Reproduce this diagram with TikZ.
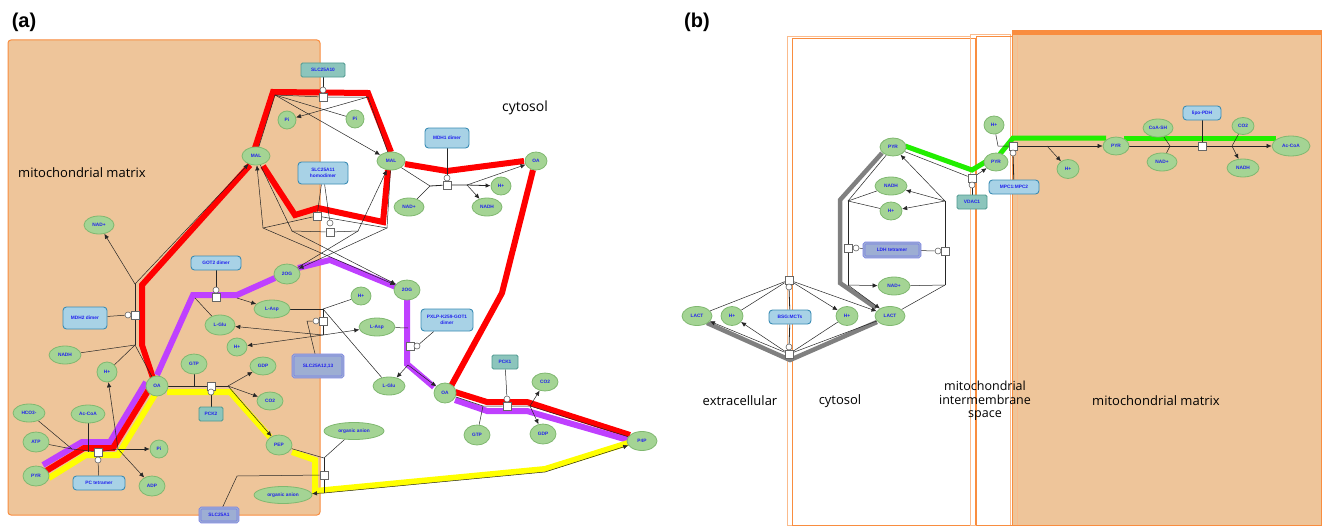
\documentclass[tikz,border=0pt]{standalone}
\usepackage{fontspec}
\setmainfont{Open Sans}
\newfontfamily\lab{Liberation Sans}
\usetikzlibrary{shapes.geometric,shapes.misc,arrows.meta}
\pgfdeclarelayer{bgl}\pgfdeclarelayer{thk}\pgfdeclarelayer{thn}
\pgfsetlayers{bgl,thk,thn,main}
\definecolor{mito}{HTML}{EEC59A}
\definecolor{memb}{HTML}{F98D3F}
\definecolor{metf}{HTML}{A4D494}
\definecolor{metd}{HTML}{80B870}
\definecolor{enzf}{HTML}{A8D2E6}
\definecolor{enzd}{HTML}{3A8CB4}
\definecolor{tealf}{HTML}{8CC5BC}
\definecolor{teald}{HTML}{4F9990}
\definecolor{cplxf}{HTML}{9DAED3}
\definecolor{cplxd}{HTML}{7A80E6}
\definecolor{txt}{HTML}{2222EE}
\definecolor{pur}{HTML}{BF40FF}
\definecolor{grn}{HTML}{22EE00}
\definecolor{yel}{HTML}{FFFF00}
\tikzset{
 every node/.style={font=\lab\bfseries\fontsize{4.8}{5.6}\selectfont, text=txt},
 met/.style={ellipse, fill=metf, draw=metd, line width=0.8, minimum width=26, minimum height=18, inner sep=0},
 enz/.style={rectangle, rounded corners=3.5, fill=enzf, draw=enzd, line width=0.9, minimum width=44, minimum height=14, inner sep=1, align=center},
 tealbox/.style={rectangle, rounded corners=1.5, fill=tealf, draw=teald, line width=0.8, minimum width=26, minimum height=14, inner sep=1},
 cplx/.style={rectangle, rounded corners=1.5, fill=cplxf, draw=cplxd, double=cplxf, double distance=1.4, line width=0.7, minimum width=38, minimum height=14, inner sep=1},
 sq/.style={rectangle, draw=black!60, fill=white, minimum size=8, inner sep=0, line width=0.6},
 cir/.style={circle, draw=black!60, fill=white, minimum size=6, inner sep=0, line width=0.6},
 ln/.style={draw=black!85, line width=0.5},
 ar/.style={ln, -{Latex[length=5pt,width=4.5pt]}},
 redp/.style={draw=red, line width=6, line join=miter},
 purp/.style={draw=pur, line width=6, line join=miter},
 yelp/.style={draw=yel, line width=6, line join=miter},
 grayp/.style={draw=black!50, line width=4.5, line join=miter},
 grnp/.style={draw=grn, line width=5, line join=miter},
 lbl/.style={text=black, font=\fontsize{13}{14.5}\selectfont, align=center},
 plbl/.style={text=black, font=\lab\bfseries\fontsize{20}{22}\selectfont}
}
\begin{document}
\begin{tikzpicture}[x=1pt,y=-1pt]
\useasboundingbox (0,0) rectangle (1324,527);
\begin{pgfonlayer}{bgl}
\fill[white] (0,0) rectangle (1324,527);
\draw[memb, fill=mito, rounded corners=3, line width=1] (8,40) rectangle (320,515);
\draw[memb!60, line width=0.9] (787,36) rectangle (970,525);
\draw[memb, line width=0.9] (792,38) rectangle (975,525);
\draw[memb!60, line width=0.9] (970,34) rectangle (1010,525);
\draw[memb, line width=0.9] (976,36) rectangle (1015,525);
\fill[mito] (1012,31) rectangle (1321,525);
\draw[memb, line width=1] (1012,31) rectangle (1321,525);
\draw[memb, line width=3.5] (1012,33) -- (1321,33);
\draw[memb!60, line width=0.8] (1017,36) -- (1017,525);
\end{pgfonlayer}

% labels
\node[plbl] (la) at (24,22) {(a)};
\node[plbl] (lb) at (697,22) {(b)};
\node[lbl] (lmm) at (82,173) {mitochondrial matrix};
\node[lbl, font=\fontsize{14}{15}\selectfont] (lcy) at (525,108) {cytosol};
\node[lbl] (lex) at (740,401) {extracellular};
\node[lbl] (lcb) at (840,401) {cytosol};
\node[lbl, font=\fontsize{12.5}{13.5}\selectfont] (lims) at (985,401) {mitochondrial\\intermembrane\\space};
\node[lbl] (lmb) at (1156,401) {mitochondrial matrix};

% ===== panel a nodes =====
\node[tealbox, minimum width=44] (slc10) at (323,70) {SLC25A10};
\node[sq] (s10) at (323,97) {};
\node[cir] (c10) at (323,90) {};
\node[met, minimum width=18] (aPiL) at (287,120) {Pi};
\node[met, minimum width=18] (aPiR) at (355,119) {Pi};
\node[met, minimum width=28] (aMALm) at (256,156) {MAL};
\node[met, minimum width=28] (aMALc) at (391,161) {MAL};
\node[enz, minimum width=50, minimum height=22] (slc11) at (323,173) {SLC25A11\\homodimer};
\node[sq] (s11a) at (317,216) {};
\node[sq] (s11b) at (330,232) {};
\node[cir] (c11b) at (330,223) {};
\node[enz, minimum height=20] (mdh1) at (447,138) {MDH1 dimer};
\node[sq] (smdh1) at (447,185) {};
\node[cir] (cmdh1) at (447,178) {};
\node[met, minimum width=30] (aNADc) at (409,207) {NAD+};
\node[met, minimum width=20] (aHc) at (501,186) {H+};
\node[met, minimum width=30] (aNADHc) at (487,207) {NADH};
\node[met, minimum width=22] (aOAc) at (536,161) {OA};
\node[met, minimum width=30] (aNADm) at (99,225) {NAD+};
\node[enz, minimum width=50] (got2) at (216,263) {GOT2 dimer};
\node[sq] (sgot2) at (216,297) {};
\node[cir] (cgot2) at (216,290) {};
\node[met, minimum width=26, minimum height=20] (a2OGm) at (287,274) {2OG};
\node[met, minimum width=26, minimum height=20] (a2OGc) at (407,290) {2OG};
\node[met, minimum width=36] (aAspm) at (272,309) {L-Asp};
\node[met, minimum width=30, minimum height=20] (aGlum) at (220,325) {L-Glu};
\node[met, minimum width=20] (aHm) at (237,347) {H+};
\node[enz, minimum width=44, minimum height=22] (mdh2) at (85,318) {MDH2 dimer};
\node[sq] (smdh2) at (135,315) {};
\node[cir] (cmdh2) at (128,315) {};
\node[met, minimum width=32] (aNADHm) at (65,355) {NADH};
\node[met, minimum width=20, minimum height=20] (aHm2) at (107,372) {H+};
\node[met, minimum width=22, minimum height=20] (aOAm) at (157,386) {OA};
\node[met, minimum width=26, minimum height=20] (aGTPm) at (194,364) {GTP};
\node[met, minimum width=26] (aGDPm) at (263,366) {GDP};
\node[met, minimum width=26] (aCO2m) at (270,401) {CO2};
\node[tealbox, minimum width=24] (pck2) at (211,414) {PCK2};
\node[sq] (spck2) at (211,386) {};
\node[cir] (cpck2) at (211,392) {};
\node[met, minimum width=20] (aHc2) at (361,296) {H+};
\node[met, minimum width=36] (aAspc) at (377,327) {L-Asp};
\node[enz, minimum width=52, minimum height=22] (got1) at (447,320) {PXLP-K259-GOT1\\dimer};
\node[cplx, minimum width=50, minimum height=22] (slc12) at (318,366) {SLC25A12,13};
\node[sq] (s12) at (323,321) {};
\node[cir] (c12) at (316,321) {};
\node[sq] (sgot1) at (410,346) {};
\node[cir] (cgot1) at (417,346) {};
\node[met, minimum width=32] (aGluc) at (389,386) {L-Glu};
\node[met, minimum width=22, minimum height=20] (aOAc2) at (445,393) {OA};
\node[tealbox] (pck1) at (505,362) {PCK1};
\node[sq] (spck1) at (507,406) {};
\node[cir] (cpck1) at (507,399) {};
\node[met, minimum width=26] (aCO2c) at (545,382) {CO2};
\node[met, minimum width=26, minimum height=20] (aGTPc) at (477,435) {GTP};
\node[met, minimum width=26, minimum height=20] (aGDPc) at (543,434) {GDP};
\node[met, minimum width=30, minimum height=19] (aP4P) at (642,441) {P4P};
\node[met, minimum width=32] (aHCO) at (29,413) {HCO3-};
\node[met, minimum width=34] (aAcCoA) at (88,414) {Ac-CoA};
\node[met, minimum width=26, minimum height=20] (aATP) at (36,442) {ATP};
\node[met, minimum width=26, minimum height=20] (aPYR) at (36,476) {PYR};
\node[sq] (spc) at (98,452) {};
\node[cir] (cpc) at (98,460) {};
\node[enz, minimum width=52] (pc) at (99,483) {PC tetramer};
\node[met, minimum width=18, minimum height=18] (aPim) at (159,449) {Pi};
\node[met, minimum width=26, minimum height=20] (aADP) at (152,486) {ADP};
\node[met, minimum width=26, minimum height=20] (aPEP) at (279,445) {PEP};
\node[met, minimum width=60, minimum height=17] (aOAnc) at (354,431) {organic anion};
\node[met, minimum width=58, minimum height=17] (aOAnm) at (283,495) {organic anion};
\node[sq] (s1) at (324,475) {};
\node[cplx, minimum width=38] (slc1) at (219,515) {SLC25A1};

% junction coordinates (a)
\coordinate (j10L) at (275,95);
\coordinate (j10R) at (368,97);
\coordinate (L1) at (263,228);
\coordinate (R1) at (387,228);
\coordinate (L2) at (292,231);
\coordinate (R2) at (358,231);
\coordinate (m1L) at (430,186);
\coordinate (m1R) at (467,185);
\coordinate (m2T) at (135,284);
\coordinate (m2B) at (135,345);
\coordinate (g2L) at (195,298);
\coordinate (g2R) at (237,298);
\coordinate (t12T) at (323,309);
\coordinate (t12B) at (323,335);
\coordinate (t12k) at (307,321);
\coordinate (g1T) at (408,328);
\coordinate (g1B) at (408,365);
\coordinate (p1L) at (483,406);
\coordinate (p1R) at (530,406);
\coordinate (p1a) at (456,397);
\coordinate (p2R) at (228,386);
\coordinate (pcL) at (72,449);
\coordinate (pcR) at (118,449);
\coordinate (t1T) at (324,458);
\coordinate (t1B) at (324,493);
\coordinate (t1k) at (237,476);
\coordinate (yk) at (545,472);

% ===== panel b nodes =====
\node[met, minimum width=26] (bPYRc) at (893,147) {PYR};
\node[met, minimum width=32] (bNADH) at (891,186) {NADH};
\node[met, minimum width=22] (bH) at (891,211) {H+};
\node[cplx, minimum width=56] (ldh) at (892,250) {LDH tetramer};
\node[sq] (sldhL) at (848,248) {};
\node[cir] (cldhL) at (856,248) {};
\node[sq] (sldhR) at (945,251) {};
\node[cir] (cldhR) at (938,251) {};
\node[met, minimum width=32] (bNAD) at (894,286) {NAD+};
\node[met, minimum width=30, minimum height=19] (bLACTc) at (890,316) {LACT};
\node[met, minimum width=30, minimum height=19] (bLACTe) at (697,316) {LACT};
\node[met, minimum width=22, minimum height=19] (bHe) at (732,316) {H+};
\node[enz, minimum width=42] (mct) at (790,317) {BSG:MCTs};
\node[met, minimum width=22, minimum height=19] (bHc) at (847,316) {H+};
\node[sq] (smctT) at (789,280) {};
\node[cir] (cmctT) at (789,287) {};
\node[sq] (smctB) at (789,354) {};
\node[cir] (cmctB) at (789,347) {};
\node[met, minimum width=24] (bPYRi) at (996,162) {PYR};
\node[met, minimum width=20] (bHi) at (994,125) {H+};
\node[tealbox, minimum width=30] (vdac) at (972,202) {VDAC1};
\node[sq] (svdac) at (972,178) {};
\node[cir] (cvdac) at (972,185) {};
\node[enz, minimum width=50] (mpc) at (1014,187) {MPC1:MPC2};
\node[sq] (smpc) at (1013,146) {};
\node[cir] (cmpc) at (1013,153) {};
\node[met, minimum width=22, minimum height=19] (bHm) at (1068,169) {H+};
\node[met, minimum width=26] (bPYRm) at (1116,146) {PYR};
\node[met, minimum width=30] (bCoA) at (1158,128) {CoA-SH};
\node[enz, minimum width=38] (pdh) at (1202,113) {lipo-PDH};
\node[met, minimum width=22, minimum height=17] (bCO2) at (1243,126) {CO2};
\node[met, minimum width=30] (bNADm) at (1162,162) {NAD+};
\node[met, minimum width=32] (bNADHm) at (1243,168) {NADH};
\node[sq] (spdh) at (1202,146) {};
\node[met, minimum width=38, minimum height=20] (bAc) at (1291,146) {Ac-CoA};

\coordinate (ldhLT) at (848,201);
\coordinate (ldhLB) at (848,285);
\coordinate (ldhRT) at (945,201);
\coordinate (ldhRB) at (945,285);
\coordinate (mpcJ) at (998,146);
\coordinate (mpcH) at (1047,146);
\coordinate (pdhL) at (1170,146);
\coordinate (pdhR) at (1232,146);

% ===== thick highlight paths =====
\begin{pgfonlayer}{thk}
\draw[purp] (43,465) -- (82,442) -- (110,442) -- (146,382);
\draw[redp] (46,471) -- (84,448) -- (113,448) -- (151,386);
\draw[yelp] (49,478) -- (86,455) -- (118,455) -- (156,393);
\draw[redp] (153,378) -- (142,345) -- (142,285) -- (250,165);
\draw[redp] (255,148) -- (273,92) -- (368,93) -- (391,152);
\draw[redp] (263,166) -- (295,215) -- (318,208) -- (383,222) -- (388,170);
\draw[redp] (405,164) -- (447,171) -- (524,161);
\draw[redp] (533,170) -- (502,293) -- (450,388);
\draw[redp] (455,392) -- (487,402) -- (527,402) -- (630,435);
\draw[purp] (157,375) -- (193,295) -- (237,295) -- (275,278);
\draw[purp] (298,268) -- (330,260) -- (396,287);
\draw[purp] (407,299) -- (407,364) -- (434,387);
\draw[purp] (455,400) -- (487,411) -- (527,411) -- (628,440);
\draw[yelp] (167,392) -- (230,392) -- (270,437);
\draw[yelp] (292,452) -- (315,460) -- (315,491) -- (545,469) -- (628,443);
% panel b
\draw[grayp] (882,153) -- (840,200) -- (840,283) -- (876,308);
\draw[grayp] (877,322) -- (790,360) -- (707,323);
\draw[grnp] (905,146) -- (972,170) -- (987,161);
\draw[grnp] (1000,154) -- (1013,138) -- (1106,138);
\draw[grnp] (1124,138) -- (1276,138);
\end{pgfonlayer}

% ===== thin connectors =====
\begin{pgfonlayer}{thn}
% SLC25A10
\draw[ln] (slc10) -- (c10);
\draw[ln] (j10L) -- (s10) -- (j10R);
\draw[ln] (aMALm) -- (j10L);
\draw[ln] (aMALc) -- (j10R);
\draw[ar] (j10L) -- (aMALc);
\draw[ar] (j10R) -- (aPiL);
\draw[ln] (aPiR) -- (j10L);
% SLC25A11
\draw[ln] (slc11) -- (s11a);
\draw[ln] (slc11) -- (c11b);
\draw[ln] (L1) -- (s11a) -- (R1);
\draw[ln] (L2) -- (s11b) -- (R2);
\draw[ar] (L1) -- (aMALm);
\draw[ln] (aMALm) -- (L2);
\draw[ar] (L1) -- (a2OGc);
\draw[ar] (L2) -- (a2OGc);
\draw[ln] (aMALc) -- (R1);
\draw[ar] (R1) -- (a2OGm);
\draw[ar] (R2) -- (aMALc);
\draw[ln] (R2) -- (a2OGm);
% MDH1
\draw[ln] (mdh1) -- (cmdh1);
\draw[ln] (aMALc) -- (m1L);
\draw[ln] (aNADc) -- (m1L);
\draw[ln, line width=0.8] (m1L) -- (smdh1) -- (m1R);
\draw[ar, line width=0.8] (m1R) -- (aHc);
\draw[ar] (m1R) -- (aNADHc);
\draw[ar] (m1R) -- (aOAc);
% MDH2
\draw[ln] (mdh2) -- (cmdh2);
\draw[ln] (m2T) -- (smdh2) -- (m2B);
\draw[ar] (m2T) -- (aNADm);
\draw[ar] (m2T) -- (aMALm);
\draw[ln] (m2B) -- (aNADHm);
\draw[ln] (m2B) -- (aHm2);
\draw[ln] (m2B) -- (aOAm);
% GOT2
\draw[ln] (got2) -- (cgot2);
\draw[ln] (g2L) -- (aGlum);
\draw[ar] (g2R) -- (aAspm);
% SLC25A12,13
\draw[ln] (aAspm) -- (t12T);
\draw[ln] (t12T) -- (s12) -- (t12B);
\draw[ln] (t12T) -- (aHc2);
\draw[ln] (t12T) -- (aGluc);
\draw[ar] (t12B) -- (aGlum);
\draw[ar] (t12B) -- (aHm);
\draw[ar] (t12B) -- (aAspc);
\draw[ln] (c12) -- (t12k) -- (slc12);
% GOT1
\draw[ln] (got1) -- (cgot1);
\draw[ln] (aAspc) -- (g1T);
\draw[ar] (g1B) -- (aGluc);
\draw[ar] (g1B) -- (aOAc2);
% PCK1
\draw[ln] (pck1) -- (cpck1);
\draw[ln] (p1a) -- (p1L) -- (spck1) -- (p1R) -- (aP4P);
\draw[ln] (aGTPc) -- (p1L);
\draw[ar] (p1R) -- (aCO2c);
\draw[ar] (p1R) -- (aGDPc);
% PCK2
\draw[ln] (pck2) -- (cpck2);
\draw[ln, line width=0.8] (aOAm) -- (spck2) -- (p2R);
\draw[ln] (aGTPm) -- (aGTPm |- spck2);
\draw[ar] (p2R) -- (aGDPm);
\draw[ar] (p2R) -- (aCO2m);
\draw[ar] (p2R) -- (aPEP);
% PC
\draw[ln] (pc) -- (cpc);
\draw[ln] (pcL) -- (spc) -- (pcR);
\draw[ln] (aHCO) -- (pcL);
\draw[ln] (aATP) -- (pcL);
\draw[ln] (aAcCoA) -- (aAcCoA |- spc);
\draw[ar] (pcR) -- (aPim);
\draw[ar] (pcR) -- (aADP);
\draw[ar] (pcR) -- (aHm2);
% SLC25A1
\draw[ln] (t1T) -- (s1) -- (t1B);
\draw[ln] (aPEP) -- (t1T);
\draw[ln] (t1T) -- (aOAnc);
\draw[ar] (t1B) -- (aOAnm);
\draw[ar] (t1B) -- (yk) -- (aP4P);
\draw[ln] (s1) -- (t1k) -- (slc1);
% ----- panel b -----
\draw[ln] (ldhLT) -- (sldhL) -- (ldhLB);
\draw[ln] (ldhRT) -- (sldhR) -- (ldhRB);
\draw[ln] (cldhL) -- (ldh);
\draw[ln] (cldhR) -- (ldh);
\draw[ln] (ldhLT) -- (bPYRc);
\draw[ln] (ldhLT) -- (bNADH);
\draw[ln] (ldhLT) -- (bH);
\draw[ar] (ldhLB) -- (bNAD);
\draw[ar] (ldhLB) -- (bLACTc);
\draw[ar] (ldhRT) -- (bPYRc);
\draw[ar] (ldhRT) -- (bNADH);
\draw[ar] (ldhRT) -- (bH);
\draw[ln] (ldhRB) -- (bNAD);
\draw[ln] (ldhRB) -- (bLACTc);
\draw[ln, line width=0.8] (cmctT) -- (mct) -- (cmctB);
\draw[ln] (bLACTe) -- (smctT);
\draw[ln] (bHe) -- (smctT);
\draw[ar] (smctT) -- (bHc);
\draw[ar] (smctT) -- (bLACTc);
\draw[ar] (smctB) -- (bLACTe);
\draw[ar] (smctB) -- (bHe);
\draw[ln] (bHc) -- (smctB);
\draw[ln] (bLACTc) -- (smctB);
\draw[ln] (bPYRc) -- (svdac);
\draw[ar] (svdac) -- (bPYRi);
\draw[ln, line width=0.8] (cvdac) -- (vdac);
\draw[ln] (bHi) -- (mpcJ) -- (smpc);
\draw[ar] (smpc) -- (bPYRm);
\draw[ar] (mpcH) -- (bHm);
\draw[ln, line width=0.8] (cmpc) -- (mpc);
\draw[ar] (bPYRm) -- (spdh) -- (bAc);
\draw[ln] (pdh) -- (spdh);
\draw[ln] (bCoA) -- (pdhL);
\draw[ln] (bNADm) -- (pdhL);
\draw[ln] (pdhR) -- (bCO2);
\draw[ar] (pdhR) -- (bNADHm);
\end{pgfonlayer}
\end{tikzpicture}
\end{document}
